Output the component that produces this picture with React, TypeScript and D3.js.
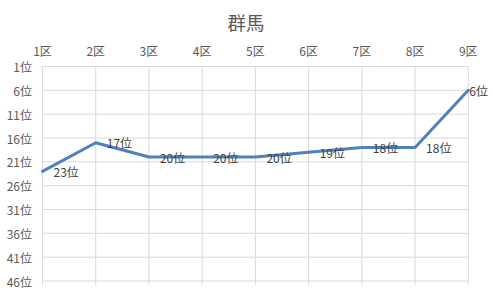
import React from "react";
import * as d3 from "d3";

const title = "群馬";
const categories = ["1区", "2区", "3区", "4区", "5区", "6区", "7区", "8区", "9区"];
const ranks = [23, 17, 20, 20, 20, 19, 18, 18, 6];
const yTicks = [1, 6, 11, 16, 21, 26, 31, 36, 41, 46];

const W = 493;
const H = 301;
const FONT = "'Noto Sans CJK JP', 'Noto Sans', sans-serif";

export default function App() {
  const x = d3.scalePoint<string>().domain(categories).range([42.5, 468.3]);
  const y = d3.scaleLinear().domain([1, 46]).range([66.5, 281]);
  const line = d3
    .line<number>()
    .x((_, i) => x(categories[i]) as number)
    .y((d) => y(d));

  const labelWidth = (s: string) => {
    let w = 0;
    for (const ch of s) w += /[0-9]/.test(ch) ? 6.7 : 12;
    return w;
  };

  return (
    <svg
      width={W}
      height={H}
      style={{ position: "absolute", left: 0, top: 0, background: "#fff" }}
      fontFamily={FONT}
    >
      <rect width={W} height={H} fill="#fff" />
      <text x={246} y={22} textAnchor="middle" dominantBaseline="central" fontSize={18.5} fill="#595959">
        {title}
      </text>
      {yTicks.map((t) => (
        <line key={"h" + t} x1={42.5} x2={468.3} y1={y(t)} y2={y(t)} stroke="#d9d9d9" strokeWidth={1} />
      ))}
      {categories.map((c) => (
        <line
          key={"v" + c}
          x1={x(c) as number}
          x2={x(c) as number}
          y1={y(1)}
          y2={y(46) + 4}
          stroke="#d9d9d9"
          strokeWidth={1}
        />
      ))}
      {categories.map((c) => (
        <text
          key={"c" + c}
          x={x(c) as number}
          y={50}
          textAnchor="middle"
          dominantBaseline="central"
          fontSize={12}
          fill="#595959"
        >
          {c}
        </text>
      ))}
      {yTicks.map((t) => (
        <text
          key={"t" + t}
          x={32}
          y={y(t)}
          textAnchor="end"
          dominantBaseline="central"
          fontSize={12}
          fill="#595959"
        >
          {t}位
        </text>
      ))}
      <path d={line(ranks) || ""} fill="none" stroke="#4f81bd" strokeWidth={3} strokeLinejoin="round" strokeLinecap="round" />
      {ranks.map((r, i) => {
        const px = x(categories[i]) as number;
        const s = `${r}位`;
        const w = labelWidth(s);
        let lx = px + 11;
        if (lx + w > 488) lx = 488 - w;
        return (
          <text
            key={"l" + i}
            x={lx}
            y={y(r)}
            dominantBaseline="central"
            fontSize={12}
            fill="#404040"
          >
            {s}
          </text>
        );
      })}
    </svg>
  );
}
